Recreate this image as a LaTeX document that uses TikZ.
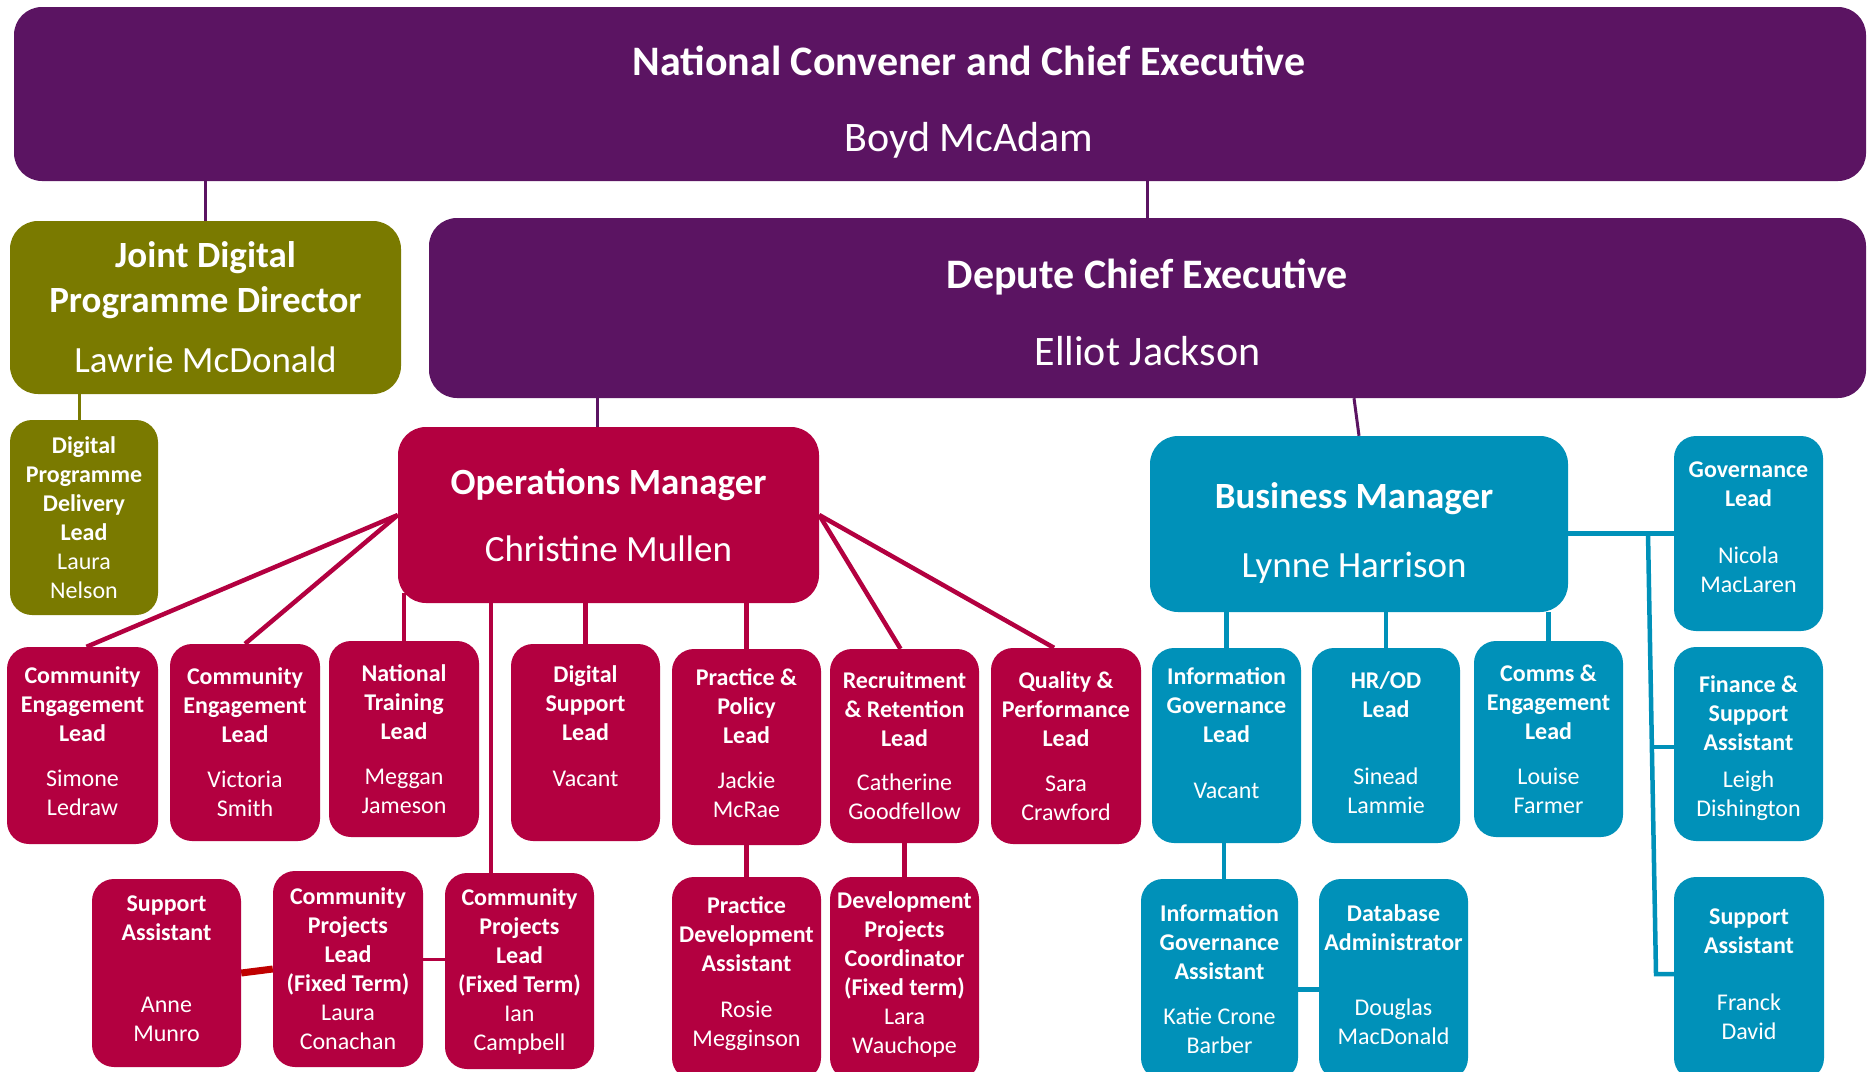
\documentclass[tikz,border=0pt]{standalone}
\usepackage{fontspec}
\setmainfont{Carlito}
\usetikzlibrary{backgrounds}
\definecolor{cepurple}{RGB}{91,20,98}
\definecolor{ceolive}{RGB}{122,122,0}
\definecolor{cecrimson}{RGB}{179,0,64}
\definecolor{ceteal}{RGB}{0,145,185}
\definecolor{cered}{RGB}{192,0,0}
\newcommand{\who}[1]{\textmd{#1}}
\newcommand{\txtdown}[1]{\rule{0pt}{#1}}
\newcommand{\txtup}[1]{\rule[-#1]{0pt}{#1}}
\tikzset{
  post/.style={rounded corners=22pt, text=white, align=center, inner sep=0pt,
    font=\fontsize{24}{29}\selectfont\bfseries},
  bigpost/.style={post, rounded corners=28pt, font=\fontsize{37}{45}\selectfont\bfseries},
  toppost/.style={post, rounded corners=28pt, font=\fontsize{42}{50}\selectfont\bfseries},
  sz/.style n args={2}{minimum width=#1pt, minimum height=#2pt},
  exec/.style={fill=cepurple}, digi/.style={fill=ceolive},
  opsteam/.style={fill=cecrimson}, bizteam/.style={fill=ceteal},
  execline/.style={draw=cepurple, line width=3pt},
  digiline/.style={draw=ceolive, line width=3pt},
  opsline/.style={draw=cecrimson, line width=4.5pt},
  bizline/.style={draw=ceteal, line width=4.5pt},
  redline/.style={draw=cered, line width=7pt}
}
\begin{document}
\begin{tikzpicture}[x=1pt, y=-1pt]
  \useasboundingbox (0,0) rectangle (1868,1071);
  \node (nce) at (940,94) [toppost, exec, sz={1852}{174}]
    {\hspace*{58pt}\txtdown{46pt}National Convener and Chief Executive\\[26pt]
     \hspace*{58pt}\who{Boyd McAdam}};
  \node (jd) at (205.5,307.5) [bigpost, digi, sz={391}{173}]
    {Joint Digital\\ Programme Director\\[15pt] \who{Lawrie McDonald}};
  \node (dce) at (1147.5,308) [toppost, exec, sz={1437}{180}]
    {\txtdown{38pt}Depute Chief Executive\\[27pt] \who{Elliot Jackson}};
  \node (dpdl) at (84,517.5) [post, digi, sz={148}{195}]
    {Digital\\ Programme\\ Delivery\\ Lead\\ \who{Laura}\\ \who{Nelson}};
  \node (ops) at (608.5,515) [bigpost, opsteam, sz={421}{176}]
    {Operations Manager\\[22pt] \who{Christine Mullen}};
  \node (bm) at (1359,524) [bigpost, bizteam, sz={418}{176}]
    {\txtdown{44pt}Business Manager\hspace*{10pt}\\[24pt] \who{Lynne Harrison}\hspace*{10pt}};
  \node (gov) at (1748.5,533.5) [post, bizteam, sz={149}{195}]
    {Governance\\ Lead\\[28pt] \who{Nicola}\\ \who{MacLaren}\txtup{12pt}};

  \node (cel1) at (82.5,745.5) [post, opsteam, sz={151}{197}]
    {Community\\ Engagement\\ Lead\\[16pt] \who{Simone}\\ \who{Ledraw}\txtup{8pt}};
  \node (cel2) at (245,742.5) [post, opsteam, sz={150}{197}]
    {Community\\ Engagement\\ Lead\\[16pt] \who{Victoria}\\ \who{Smith}};
  \node (ntl) at (404,739) [post, opsteam, sz={150}{196}]
    {National\\ Training\\ Lead\\[16pt] \who{Meggan}\\ \who{Jameson}};
  \node (dsl) at (585.5,742.5) [post, opsteam, sz={149}{197}]
    {Digital\\ Support\\ Lead\\[17pt] \who{Vacant}\\ \phantom{Vg}};
  \node (ppl) at (746.5,747) [post, opsteam, sz={149}{196}]
    {Practice \&\\ Policy\\ Lead\\[16pt] \who{Jackie}\\ \who{McRae}\txtup{7pt}};
  \node (rrl) at (904.5,746) [post, opsteam, sz={149}{194}]
    {Recruitment\\ \& Retention\\ Lead\\[15pt] \who{Catherine}\\ \who{Goodfellow}};
  \node (qpl) at (1066,746) [post, opsteam, sz={150}{196}]
    {Quality \&\\ Performance\\ Lead\\[16pt] \who{Sara}\\ \who{Crawford}};
  \node (igl) at (1226.5,745.5) [post, bizteam, sz={149}{195}]
    {\txtdown{25pt}Information\\ Governance\\ Lead\\[27pt] \who{Vacant}\\ \phantom{Vg}};
  \node (hr) at (1386,745.5) [post, bizteam, sz={148}{195}]
    {HR/OD\\ Lead\\[38pt] \who{Sinead}\\ \who{Lammie}\txtup{6pt}};
  \node (comms) at (1548.5,739) [post, bizteam, sz={149}{196}]
    {Comms \&\\ Engagement\\ Lead\\[16pt] \who{Louise}\\ \who{Farmer}};
  \node (fin) at (1748.5,744) [post, bizteam, sz={149}{194}]
    {\txtdown{25pt}Finance \&\\ Support\\ Assistant\\[8pt] \who{Leigh}\\ \who{Dishington}};

  \node (sa1) at (166.5,973) [post, opsteam, sz={149}{188}]
    {Support\\ Assistant\\[43pt] \who{Anne}\\ \who{Munro}\txtup{8pt}};
  \node (cpl1) at (348,969) [post, opsteam, sz={150}{196}]
    {Community\\ Projects\\ Lead\\ (Fixed Term)\\ \who{Laura}\\ \who{Conachan}};
  \node (cpl2) at (519.5,971) [post, opsteam, sz={149}{196}]
    {Community\\ Projects\\ Lead\\ (Fixed Term)\\ \who{Ian}\\ \who{Campbell}};
  \node (pda) at (746.5,978.5) [post, opsteam, sz={149}{203}]
    {Practice\\ Development\\ Assistant\\[17pt] \who{Rosie}\\ \who{Megginson}\txtup{13pt}};
  \node (dpc) at (904.5,978.5) [post, opsteam, sz={149}{203}]
    {Development\\ Projects\\ Coordinator\\ (Fixed term)\\ \who{Lara}\\ \who{Wauchope}\txtup{11pt}};
  \node (iga) at (1219.5,979.5) [post, bizteam, sz={157}{201}]
    {Information\\ Governance\\ Assistant\\[16pt] \who{Katie Crone}\\ \who{Barber}};
  \node (dba) at (1393.5,979.5) [post, bizteam, sz={149}{201}]
    {Database\\ Administrator\\[36pt] \who{Douglas}\\ \who{MacDonald}\txtup{10pt}};
  \node (sa3) at (1749,978.5) [post, bizteam, sz={150}{203}]
    {Support\\ Assistant\\[28pt] \who{Franck}\\ \who{David}\txtup{8pt}};

  \coordinate (trunk) at (1648,533.5);
  \coordinate (trunkmid) at (1653,747);
  \coordinate (trunkfoot) at (1656,974);

  \begin{scope}[on background layer]
    \fill[white] (0,0) rectangle (1868,1071);
    \draw[execline] (jd.north) -- (jd.north |- nce.south);
    \draw[execline] (dce.north) -- (dce.north |- nce.south);
    \draw[digiline] ([xshift=-5pt]dpdl.north) -- ([xshift=-5pt]dpdl.north |- jd.south);
    \draw[execline] ([xshift=-11pt]ops.north) -- ([xshift=-11pt]ops.north |- dce.south);
    \draw[execline] (bm.north) -- ([xshift=-5pt]bm.north |- dce.south);

    \draw[opsline] (ops.west) -- ([xshift=4pt]cel1.north);
    \draw[opsline] (ops.west) -- (cel2.north);
    \draw[opsline] (ntl.north) -- ([yshift=10pt]ntl.north |- ops.south);
    \draw[opsline] ([xshift=-28.5pt]cpl2.north) -- ([xshift=-28.5pt]cpl2.north |- ops.south);
    \draw[opsline] (dsl.north) -- (dsl.north |- ops.south);
    \draw[opsline] (ppl.north) -- (ppl.north |- ops.south);
    \draw[opsline] (ops.east) -- ([xshift=-4pt]rrl.north);
    \draw[opsline] (ops.east) -- ([xshift=-12pt]qpl.north);
    \draw[opsline] (ppl.south) -- (pda.north);
    \draw[opsline] (rrl.south) -- (dpc.north);
    \draw[redline] (sa1.east) -- (cpl1.west);
    \draw[opsline, line width=3pt] ([yshift=10pt]cpl1.east) -- ([yshift=10pt]cpl1.east -| cpl2.west);

    \draw[bizline] (igl.north) -- (igl.north |- bm.south);
    \draw[bizline] (hr.north) -- (hr.north |- bm.south);
    \draw[bizline] (comms.north) -- (comms.north |- bm.south);
    \draw[bizline] ([xshift=4.5pt]iga.north) -- ([xshift=4.5pt]iga.north |- igl.south);
    \draw[bizline] ([yshift=-10pt]iga.east) -- ([yshift=-10pt]iga.east -| dba.west);
    \draw[bizline] (bm.east |- gov.west) -- (gov.west);
    \draw[bizline] (trunk) -- (trunkfoot) -- (trunkfoot -| sa3.west);
    \draw[bizline] (trunkmid) -- (trunkmid -| fin.west);
  \end{scope}
\end{tikzpicture}
\end{document}
